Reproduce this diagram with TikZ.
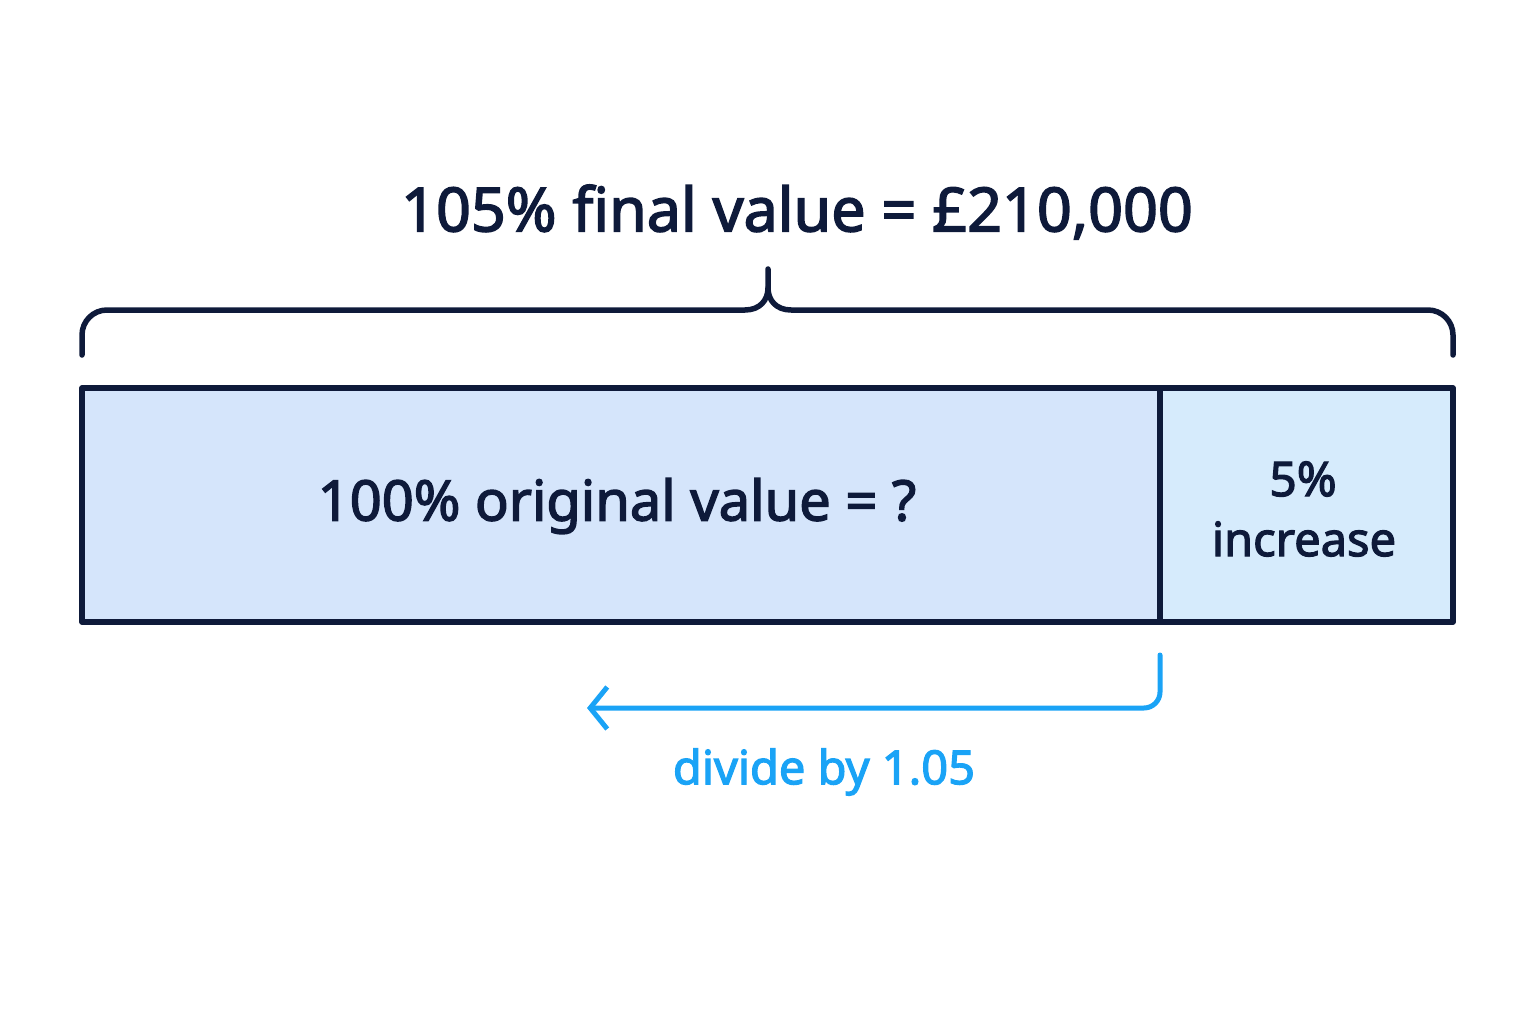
\documentclass[tikz,border=0pt]{standalone}
\usepackage{fontspec}
\setmainfont{Noto Sans}[FakeBold=2.5]
\usetikzlibrary{arrows.meta}
\definecolor{navy}{HTML}{0E1A3A}
\definecolor{leftfill}{HTML}{D5E5FB}
\definecolor{rightfill}{HTML}{D6EBFC}
\definecolor{arrowblue}{HTML}{1AA3F6}
\tikzset{
  bar/.style={draw=navy, line width=5.5pt, line join=round, outer sep=0pt, inner sep=0pt},
  lbl/.style={text=navy, font=\fontsize{56}{62}\selectfont, inner sep=0pt, align=center},
  bracepath/.style={draw=navy, line width=5.5pt, line cap=round, line join=round},
  bluearrow/.style={draw=arrowblue, line width=5pt, line cap=round, rounded corners=16pt, -{Straight Barb[length=17pt,width=42pt,line width=5pt]}},
}
\begin{document}
\begin{tikzpicture}[x=1pt,y=-1pt]
\useasboundingbox (0,0) rectangle (1536,1024);
% boxes
\node[bar, fill=leftfill, minimum width=1078pt, minimum height=234pt, anchor=north west] (orig) at (82,388) {};
\node[bar, fill=rightfill, minimum width=293pt, minimum height=234pt, anchor=north west] (incr) at (1160,388) {};
\node[lbl] (origtxt) at (617,506) {100\% original value = ?};
\node[lbl, font=\fontsize{48}{56}\selectfont] (pct) at (1303,479) {5\%};
\node[lbl, font=\fontsize{47}{56}\selectfont] (inctxt) at (1304,539) {increase};
% title
\node[lbl, font=\fontsize{61}{68}\selectfont] (title) at (797,212) {105\% final value = £210,000};
% brace
\coordinate (bl) at (82,355);
\coordinate (br) at (1453,355);
\coordinate (tip) at (768,269);
\draw[bracepath] (bl) -- (82,335) arc[start angle=180, end angle=90, radius=25pt] -- (745,310)
  .. controls (760,310) and (768,300) .. (768,288) -- (tip);
\draw[bracepath] (br) -- (1453,335) arc[start angle=0, end angle=90, radius=25pt] -- (791,310)
  .. controls (776,310) and (768,300) .. (768,288);
% arrow
\coordinate (astart) at (1160,655);
\coordinate (aend) at (587,708);
\draw[bluearrow] (astart) -- (1160,708) -- (aend);
\node[lbl, text=arrowblue, font=\fontsize{47}{54}\selectfont] (divtxt) at (824,772) {divide by 1.05};
\end{tikzpicture}
\end{document}
